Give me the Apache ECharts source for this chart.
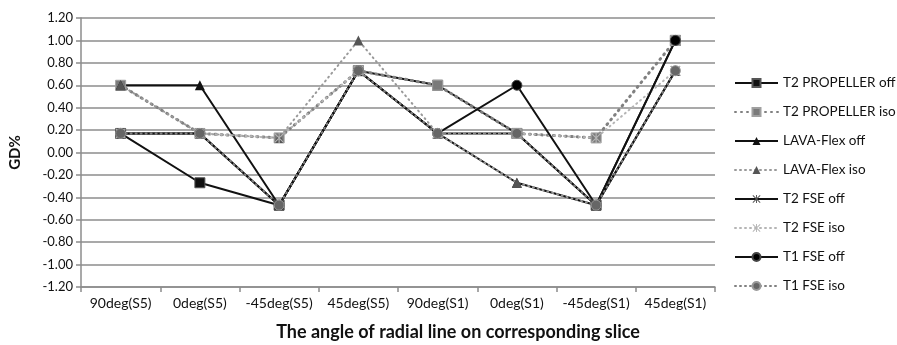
<!DOCTYPE html>
<html>
<head>
<meta charset="utf-8">
<script src="https://cdn.jsdelivr.net/npm/echarts@6/dist/echarts.min.js"></script>
<style>
  html, body { margin: 0; padding: 0; background: #fff; }
</style>
</head>
<body>
<div id="chartDom" style="width: 897px;height: 345px;"></div>
<script>
// categories on x axis
const categories = ['90deg(S5)', '0deg(S5)', '-45deg(S5)', '45deg(S5)', '90deg(S1)', '0deg(S1)', '-45deg(S1)', '45deg(S1)'];

// GD% values
const t2PropOff = [0.17, -0.27, -0.47, 0.73, 0.6, 0.17, -0.47, 1.0];
const t2PropIso = [0.6, 0.17, 0.13, 0.73, 0.6, 0.17, 0.13, 1.0];
const lavaOff   = [0.6, 0.6, -0.47, 0.73, 0.17, -0.27, -0.47, 0.73];
const lavaIso   = [0.6, 0.17, 0.13, 1.0, 0.17, -0.27, -0.47, 0.73];
const t2FseOff  = [0.17, 0.17, -0.47, 0.73, 0.17, 0.17, -0.47, 0.73];
const t2FseIso  = [0.17, 0.17, 0.13, 0.73, 0.17, 0.17, 0.13, 0.73];
const t1FseOff  = [0.17, 0.17, -0.47, 0.73, 0.17, 0.6, -0.47, 1.0];
const t1FseIso  = [0.17, 0.17, -0.47, 0.73, 0.17, 0.17, -0.47, 0.73];

const fontFam = 'Lato, "Open Sans", sans-serif';
// asterisk marker (Excel "star")
const starPath = 'path://M4.4 0L5.6 0L5.6 10L4.4 10ZM0 0.8L0.8 0L10 9.2L9.2 10ZM9.2 0L10 0.8L0.8 10L0 9.2Z';

const mkSeries = (name, data, opt) => ({
    name: name,
    type: 'line',
    data: data,
    symbol: opt.symbol,
    symbolSize: opt.size || 10,
    showAllSymbol: true,
    animation: false,
    lineStyle: {
        color: opt.lineColor,
        width: opt.width || 2,
        type: opt.dash || 'solid',
        cap: opt.dash ? 'round' : 'butt'
    },
    itemStyle: {
        color: opt.color,
        borderColor: opt.border || opt.color,
        borderWidth: opt.borderWidth || 0
    },
    z: 2
});

const myChart = echarts.init(document.getElementById('chartDom'));

const option = {
    backgroundColor: '#fff',
    animation: false,
    title: {
        text: 'The angle of radial line on corresponding slice',
        left: 458,
        top: 323,
        textAlign: 'center',
        padding: 0,
        textStyle: {
            color: '#111',
            fontSize: 18,
            fontWeight: 'bold',
            fontFamily: fontFam
        }
    },
    grid: {
        left: 80,
        right: 182,
        top: 18,
        bottom: 58
    },
    legend: {
        orient: 'vertical',
        left: 734,
        top: 76,
        width: 200,
        padding: 0,
        itemWidth: 43,
        itemHeight: 10,
        itemGap: 15,
        textStyle: {
            color: '#111',
            fontSize: 13.5,
            fontFamily: fontFam,
            width: 140,
            overflow: 'none'
        },
        data: ['T2 PROPELLER off', 'T2 PROPELLER iso', 'LAVA-Flex off', 'LAVA-Flex iso', 'T2 FSE off', 'T2 FSE iso', 'T1 FSE off', 'T1 FSE iso']
    },
    xAxis: {
        type: 'category',
        data: categories,
        boundaryGap: true,
        axisLine: {
            onZero: false,
            lineStyle: { color: '#8c8c8c', width: 1.5 }
        },
        axisTick: {
            show: true,
            length: 5,
            lineStyle: { color: '#8c8c8c', width: 1.5 }
        },
        axisLabel: {
            interval: 0,
            color: '#111',
            fontSize: 14,
            fontFamily: fontFam,
            margin: 9
        }
    },
    yAxis: {
        type: 'value',
        min: -1.2,
        max: 1.2,
        interval: 0.2,
        name: 'GD%',
        nameLocation: 'middle',
        nameGap: 58,
        nameTextStyle: {
            color: '#111',
            fontSize: 15,
            fontWeight: 'bold',
            fontFamily: fontFam
        },
        axisLine: {
            show: true,
            lineStyle: { color: '#8c8c8c', width: 1.5 }
        },
        axisTick: {
            show: true,
            length: 5,
            lineStyle: { color: '#8c8c8c', width: 1.5 }
        },
        splitLine: {
            show: true,
            lineStyle: { color: '#8c8c8c', width: 1.5 }
        },
        axisLabel: {
            color: '#111',
            fontSize: 13,
            fontFamily: fontFam,
            margin: 8,
            formatter: v => v.toFixed(2)
        }
    },
    series: [
        mkSeries('T2 PROPELLER off', t2PropOff, { symbol: 'rect', color: '#111', lineColor: '#111', border: '#555', borderWidth: 1 }),
        mkSeries('T2 PROPELLER iso', t2PropIso, { symbol: 'rect', color: '#7a7a7a', lineColor: '#808080', width: 3, dash: [1, 5], border: '#a0a0a0', borderWidth: 1 }),
        mkSeries('LAVA-Flex off', lavaOff, { symbol: 'triangle', color: '#111', lineColor: '#111' }),
        mkSeries('LAVA-Flex iso', lavaIso, { symbol: 'triangle', color: '#555', lineColor: '#999', width: 2, dash: [1, 4] }),
        mkSeries('T2 FSE off', t2FseOff, { symbol: starPath, color: '#555', lineColor: '#111' }),
        mkSeries('T2 FSE iso', t2FseIso, { symbol: starPath, color: '#b5b5b5', lineColor: '#b5b5b5', width: 2, dash: [1, 4] }),
        mkSeries('T1 FSE off', t1FseOff, { symbol: 'circle', color: '#000', lineColor: '#111', border: '#444', borderWidth: 1 }),
        mkSeries('T1 FSE iso', t1FseIso, { symbol: 'circle', color: '#666', lineColor: '#808080', width: 2, dash: [1, 4], border: '#999', borderWidth: 1 })
    ]
};

myChart.setOption(option);
</script>
</body>
</html>
